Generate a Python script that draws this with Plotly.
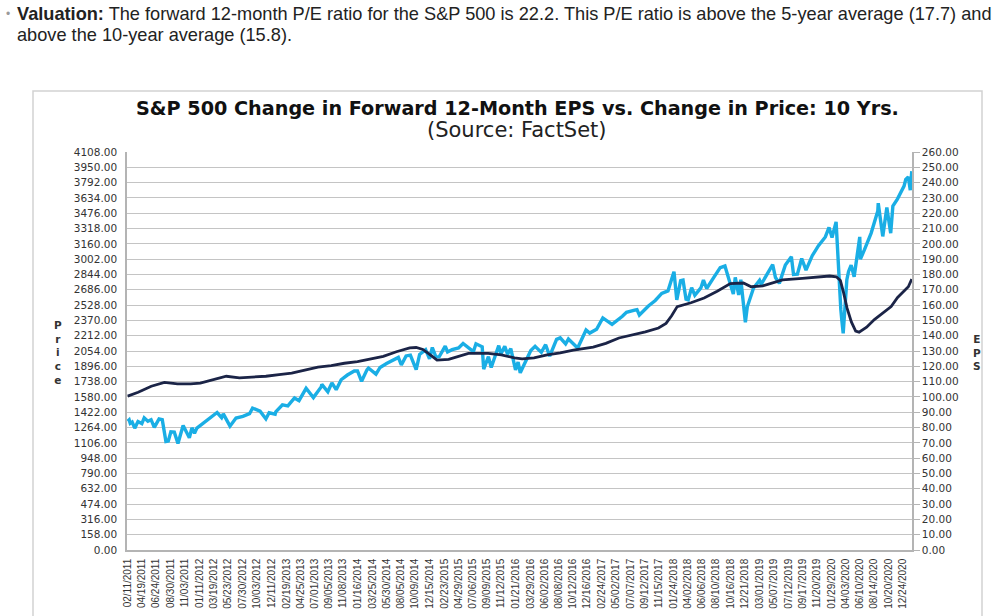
import plotly.graph_objects as go
from datetime import datetime

# ---------------- data ----------------
price_dates = [
    "2011-02-11", "2011-02-18", "2011-02-23", "2011-03-04", "2011-03-16", "2011-03-31", "2011-04-18", "2011-04-29",
    "2011-05-16", "2011-05-31", "2011-06-15", "2011-06-30", "2011-07-07", "2011-07-22", "2011-08-08", "2011-08-19",
    "2011-08-31", "2011-09-16", "2011-10-03", "2011-10-27", "2011-11-25", "2011-12-07", "2011-12-19", "2011-12-30",
    "2012-01-31", "2012-02-29", "2012-04-02", "2012-04-23", "2012-05-01", "2012-06-01", "2012-06-29", "2012-07-31",
    "2012-08-31", "2012-09-14", "2012-10-19", "2012-11-15", "2012-11-30", "2012-12-28", "2012-12-31",
    "2013-01-31", "2013-02-25", "2013-03-28", "2013-04-18", "2013-05-21", "2013-06-24", "2013-07-31", "2013-08-02",
    "2013-08-30", "2013-09-18", "2013-10-08", "2013-10-31", "2013-11-29", "2013-12-31",
    "2014-01-15", "2014-02-03", "2014-02-28", "2014-03-07", "2014-04-11", "2014-04-30", "2014-05-30", "2014-06-30",
    "2014-07-24", "2014-08-07", "2014-08-29", "2014-09-18", "2014-10-15", "2014-10-31", "2014-11-28", "2014-12-16",
    "2014-12-29",
    "2015-01-15", "2015-01-30", "2015-02-27", "2015-03-10", "2015-03-31", "2015-04-30", "2015-05-21", "2015-06-30",
    "2015-07-08", "2015-07-20", "2015-08-18", "2015-08-25", "2015-09-16", "2015-09-29", "2015-10-30", "2015-11-03",
    "2015-11-13", "2015-12-01", "2015-12-14", "2015-12-29",
    "2016-01-20", "2016-02-01", "2016-02-11", "2016-03-31", "2016-04-20", "2016-05-19", "2016-06-08", "2016-06-27",
    "2016-07-29", "2016-08-15", "2016-09-09", "2016-09-22", "2016-11-04", "2016-11-30", "2016-12-13", "2016-12-30",
    "2017-01-31", "2017-03-01", "2017-04-13", "2017-05-31", "2017-06-19", "2017-07-27", "2017-08-07", "2017-08-18",
    "2017-09-29", "2017-10-31", "2017-11-30", "2017-12-29",
    "2018-01-26", "2018-02-08", "2018-02-26", "2018-03-09", "2018-03-23", "2018-04-02", "2018-04-18", "2018-05-03",
    "2018-05-31", "2018-06-12", "2018-06-27", "2018-07-31", "2018-08-29", "2018-09-20", "2018-10-10", "2018-10-29",
    "2018-11-07", "2018-11-23", "2018-12-03", "2018-12-24",
    "2019-01-02", "2019-01-31", "2019-02-28", "2019-03-08", "2019-04-30", "2019-05-13", "2019-05-31", "2019-06-28",
    "2019-07-26", "2019-08-05", "2019-08-23", "2019-09-12", "2019-10-02", "2019-10-31", "2019-11-29", "2019-12-31",
    "2020-01-17", "2020-01-31", "2020-02-19", "2020-02-28", "2020-03-12", "2020-03-16", "2020-03-23", "2020-04-09",
    "2020-04-17", "2020-04-29", "2020-05-13", "2020-06-08", "2020-06-11", "2020-06-30", "2020-07-31", "2020-08-31",
    "2020-09-02", "2020-09-23", "2020-10-12", "2020-10-30", "2020-11-09", "2020-11-30", "2020-12-31",
    "2021-01-08", "2021-01-20", "2021-01-29", "2021-02-05",
]
price_values = [
    1329, 1343, 1307, 1321, 1257, 1326, 1305, 1364,
    1329, 1345, 1265, 1321, 1353, 1345, 1119, 1124,
    1219, 1216, 1099, 1285, 1159, 1261, 1205, 1258,
    1312, 1366, 1419, 1366, 1405, 1278, 1362, 1379,
    1407, 1465, 1433, 1353, 1416, 1402, 1426,
    1498, 1488, 1569, 1541, 1669, 1573, 1686, 1709,
    1633, 1725, 1655, 1757, 1806, 1848,
    1848, 1741, 1859, 1878, 1815, 1884, 1924, 1960,
    1988, 1910, 2003, 2011, 1862, 2018, 2068, 1972,
    2090,
    1992, 1995, 2105, 2044, 2068, 2086, 2131, 2063,
    2047, 2128, 2097, 1868, 1996, 1884, 2079, 2110,
    2023, 2103, 2021, 2078,
    1859, 1940, 1829, 2060, 2102, 2040, 2119, 2001,
    2174, 2190, 2128, 2177, 2085, 2199, 2271, 2239,
    2279, 2396, 2329, 2412, 2453, 2475, 2481, 2425,
    2519, 2575, 2648, 2674,
    2873, 2581, 2780, 2786, 2588, 2582, 2708, 2630,
    2705, 2787, 2699, 2816, 2914, 2931, 2786, 2641,
    2814, 2633, 2790, 2351,
    2510, 2704, 2784, 2743, 2946, 2812, 2752, 2942,
    3026, 2845, 2847, 3009, 2888, 3038, 3141, 3231,
    3330, 3226, 3386, 2954, 2481, 2386, 2237, 2790,
    2875, 2940, 2820, 3232, 3002, 3100, 3271, 3500,
    3580, 3237, 3535, 3270, 3550, 3622, 3756,
    3825, 3851, 3714, 3910,
]

eps_dates = [
    "2011-02-11", "2011-04-01", "2011-06-01", "2011-08-01", "2011-10-01", "2011-12-01",
    "2012-01-15", "2012-03-15", "2012-05-15", "2012-07-15", "2012-09-15", "2012-11-15",
    "2013-01-15", "2013-03-15", "2013-05-15", "2013-07-15", "2013-09-15", "2013-11-15",
    "2014-01-15", "2014-03-15", "2014-05-15", "2014-07-15", "2014-09-15", "2014-10-15", "2014-11-15", "2014-12-15",
    "2015-01-20", "2015-03-15", "2015-06-15", "2015-09-15", "2015-11-15",
    "2016-01-15", "2016-02-20", "2016-04-15", "2016-06-15", "2016-08-15", "2016-10-15",
    "2017-01-15", "2017-03-15", "2017-05-15", "2017-07-15", "2017-09-15", "2017-11-15", "2017-12-20",
    "2018-01-15", "2018-02-10", "2018-04-15", "2018-06-15", "2018-08-15", "2018-10-15", "2018-12-15",
    "2019-01-20", "2019-03-15", "2019-06-15", "2019-09-15", "2019-12-15",
    "2020-01-20", "2020-02-20", "2020-03-10", "2020-03-25", "2020-04-10", "2020-04-30", "2020-05-20",
    "2020-06-05", "2020-07-10", "2020-08-15", "2020-10-01", "2020-11-01", "2020-12-01", "2020-12-31",
    "2021-01-20", "2021-02-05",
]
eps_values = [
    100.5, 103.0, 107.0, 109.5, 108.5, 108.5,
    109.0, 111.0, 113.5, 112.5, 113.0, 113.5,
    114.5, 115.5, 117.5, 119.5, 120.5, 122.0,
    123.0, 124.5, 126.5, 129.5, 132.0, 132.3, 131.0, 128.0,
    124.0, 124.5, 128.5, 128.5, 127.5,
    125.5, 124.8, 125.5, 127.5, 128.7, 130.5,
    132.6, 135.0, 138.5, 140.5, 142.5, 145.0, 148.0,
    153.0, 159.0, 161.5, 164.6, 169.0, 174.0, 174.4,
    172.0, 172.5, 176.4, 177.5, 178.5,
    179.0, 178.5, 176.0, 168.0, 158.0, 149.0, 143.0,
    142.3, 145.5, 150.5, 155.5, 159.0, 165.0, 169.0,
    172.0, 177.0,
]

tick_labels = [
    "02/11/2011", "04/19/2011", "06/24/2011", "08/30/2011", "11/03/2011",
    "01/11/2012", "03/19/2012", "05/23/2012", "07/30/2012", "10/03/2012", "12/11/2012",
    "02/19/2013", "04/25/2013", "07/01/2013", "09/05/2013", "11/08/2013",
    "01/16/2014", "03/25/2014", "05/30/2014", "08/05/2014", "10/09/2014", "12/15/2014",
    "02/23/2015", "04/29/2015", "07/06/2015", "09/09/2015", "11/12/2015",
    "01/21/2016", "03/29/2016", "06/02/2016", "08/08/2016", "10/12/2016", "12/16/2016",
    "02/24/2017", "05/02/2017", "07/07/2017", "09/12/2017", "11/15/2017",
    "01/24/2018", "04/02/2018", "06/06/2018", "08/10/2018", "10/16/2018", "12/21/2018",
    "03/01/2019", "05/07/2019", "07/12/2019", "09/17/2019", "11/20/2019",
    "01/29/2020", "04/03/2020", "06/10/2020", "08/14/2020", "10/20/2020", "12/24/2020",
]
tick_vals = [datetime.strptime(t, "%m/%d/%Y").strftime("%Y-%m-%d") for t in tick_labels]

# ---------------- layout helpers (page pixel -> paper) ----------------
W, H = 1000, 616
L = 127                      # plot area left edge
R = W - 912                  # plot area right edge at x=912
T = 152                      # plot area top
B = H - 550                  # plot area bottom at y=550
PW, PH = W - L - R, H - T - B


def px(x):
    return (x - L) / PW


def py(y):
    return (H - B - y) / PH


GRID = "#c4c4c4"
AXIS = "#b4b4b4"
TXT = "#333333"

fig = go.Figure()
fig.add_trace(go.Scatter(x=price_dates, y=price_values, mode="lines", name="Price",
                         line=dict(color="#1AAEE5", width=3.4), yaxis="y"))
fig.add_trace(go.Scatter(x=eps_dates, y=eps_values, mode="lines", name="EPS",
                         line=dict(color="#1B2447", width=2.8), yaxis="y2"))

fig.update_layout(
    width=W, height=H,
    margin=dict(l=L, r=R, t=T, b=B, autoexpand=False),
    paper_bgcolor="white", plot_bgcolor="white",
    showlegend=False,
    xaxis=dict(type="date", range=["2011-02-08", "2021-02-06"], automargin=False,
               tickmode="array", tickvals=tick_vals, ticktext=tick_labels,
               tickangle=-90, tickfont=dict(family="Liberation Sans", size=10, color=TXT),
               showgrid=False, zeroline=False, showline=True, linecolor=AXIS, linewidth=1.5,
               ticks="outside", ticklen=3, tickcolor="rgba(0,0,0,0)"),
    yaxis=dict(range=[0, 4108], tick0=0, dtick=158, tickformat=".2f", automargin=False,
               showgrid=True, gridcolor=GRID, gridwidth=1.4, zeroline=False,
               showline=True, linecolor=AXIS, linewidth=1.5,
               ticks="outside", ticklen=6, tickcolor="rgba(0,0,0,0)",
               tickfont=dict(family="DejaVu Sans", size=10.5, color=TXT)),
    yaxis2=dict(range=[0, 260], tick0=0, dtick=10, tickformat=".2f", overlaying="y", side="right",
                automargin=False,
                showgrid=False, zeroline=False, showline=True, linecolor=AXIS, linewidth=1.5,
                ticks="outside", ticklen=6, tickcolor=AXIS,
                tickfont=dict(family="DejaVu Sans", size=10.5, color=TXT)),
)

fig.add_shape(type="rect", xref="paper", yref="paper",
              x0=px(33), x1=px(982), y0=py(640), y1=py(91),
              line=dict(color="#d2d2d2", width=1.5), fillcolor="rgba(0,0,0,0)", layer="below")

ann = [
    dict(text="<b>S&P 500 Change in Forward 12-Month EPS vs. Change in Price: 10 Yrs.</b>",
         x=px(517), y=py(109), font=dict(family="DejaVu Sans", size=19.2, color="#111111")),
    dict(text="(Source: FactSet)", x=px(517), y=py(130),
         font=dict(family="DejaVu Sans", size=21, color="#222222")),
    dict(text="<b>P<br>r<br>i<br>c<br>e</b>", x=px(58), y=py(352),
         font=dict(family="DejaVu Sans", size=10.5, color=TXT)),
    dict(text="<b>E<br>P<br>S</b>", x=px(977), y=py(352),
         font=dict(family="DejaVu Sans", size=10.5, color=TXT)),
    dict(text="<b>Valuation:</b> The forward 12-month P/E ratio for the S&P 500 is 22.2. This P/E ratio is above the 5-year average (17.7) and",
         x=px(15), y=py(14), xanchor="left",
         font=dict(family="Liberation Sans", size=18.2, color="#222222")),
    dict(text="above the 10-year average (15.8).", x=px(15), y=py(35), xanchor="left",
         font=dict(family="Liberation Sans", size=18.2, color="#222222")),
    dict(text="•", x=px(8), y=py(14), font=dict(family="Liberation Sans", size=12, color="#9a9a9a")),
]
for a in ann:
    a.setdefault("xanchor", "center")
    fig.add_annotation(xref="paper", yref="paper", showarrow=False, yanchor="middle", **a)

fig.write_html("out.html", config={"displayModeBar": False},
               post_script="document.body.style.margin='0px';document.body.style.overflow='hidden';")
